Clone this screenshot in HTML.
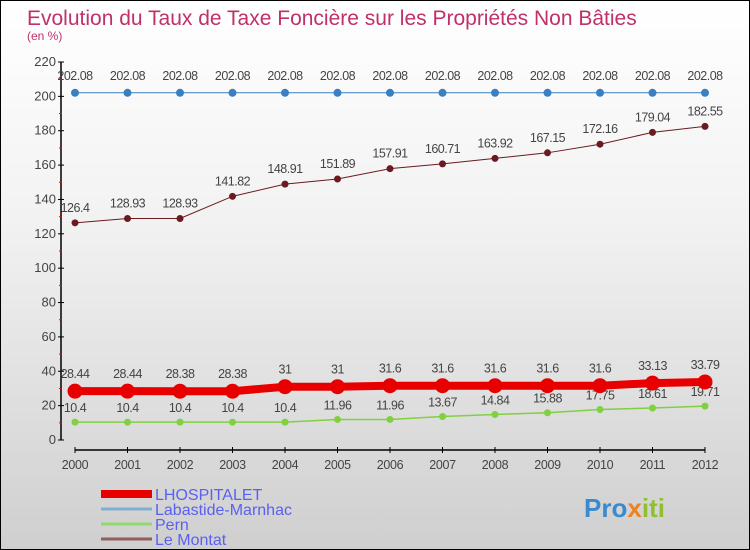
<!DOCTYPE html>
<html><head><meta charset="utf-8"><style>
body{margin:0}
#c{width:748px;height:548px;border:1px solid #000;background:linear-gradient(#fff,#f2f2f2 40%,#cfcfcf);position:relative;font-family:"Liberation Sans",sans-serif}
</style></head><body>
<div id="c">
<svg id="s" width="748" height="548" style="position:absolute;left:0;top:0" font-family="Liberation Sans, sans-serif">
<text x="26" y="24" font-size="21" fill="#c0306a">Evolution du Taux de Taxe Foncière sur les Propriétés Non Bâties</text>
<text x="26" y="39" font-size="12" fill="#c0306a">(en %)</text>
</svg>
</div>
<script>
const years=[2000,2001,2002,2003,2004,2005,2006,2007,2008,2009,2010,2011,2012];
const lhospitalet=[28.44,28.44,28.38,28.38,31,31,31.6,31.6,31.6,31.6,31.6,33.13,33.79];
const labastide=[202.08,202.08,202.08,202.08,202.08,202.08,202.08,202.08,202.08,202.08,202.08,202.08,202.08];
const pern=[10.4,10.4,10.4,10.4,10.4,11.96,11.96,13.67,14.84,15.88,17.75,18.61,19.71];
const montat=[126.4,128.93,128.93,141.82,148.91,151.89,157.91,160.71,163.92,167.15,172.16,179.04,182.55];
const yTicks=[0,20,40,60,80,100,120,140,160,180,200,220];
const NS="http://www.w3.org/2000/svg";
const svg=document.getElementById('s');
const X=i=>74+i*52.5;
const Y=v=>439-v*(378/220);
function el(t,a,p){const e=document.createElementNS(NS,t);for(const k in a)e.setAttribute(k,a[k]);(p||svg).appendChild(e);return e;}
let e=el('line',{x1:60,y1:Y(0),x2:60,y2:Y(220),stroke:'#000','stroke-width':1.5});


e=el('line',{x1:X(0),y1:449,x2:X(12),y2:449,stroke:'#000','stroke-width':1.5});


yTicks.forEach(v=>{
 el('line',{x1:57,y1:Y(v),x2:63,y2:Y(v),stroke:'#000'});
 if(v<220)el('line',{x1:58,y1:Y(v+10),x2:61,y2:Y(v+10),stroke:'#f00'});
 const t=el('text',{x:55,y:Y(v)+4,'text-anchor':'end','font-size':13,fill:'#444'});
 t.textContent=v;
 
 
});
years.forEach((y,i)=>{
 el('line',{x1:X(i),y1:446,x2:X(i),y2:452,stroke:'#000'});
 const t=el('text',{x:X(i),y:468,'text-anchor':'middle','font-size':12.5,fill:'#444','letter-spacing':'-0.3'});
 t.textContent=y;
 
 
});
function series(d,col,w,r,name,lo){
 const g=el('g',{});
 
 
 el('polyline',{points:d.map((v,i)=>X(i)+','+Y(v)).join(' '),fill:'none',stroke:col,'stroke-width':w},g);
 d.forEach((v,i)=>{
  const c=el('circle',{cx:X(i),cy:Y(v),r:r,fill:col},g);
  
  
  const t=el('text',{x:X(i),y:Y(v)-lo,'text-anchor':'middle','font-size':12.5,fill:'#444','letter-spacing':'-0.5'},g);
  t.textContent=v;
  
  
 });
}
series(labastide,'#3a80c0',1,4,'labastide-marnhac',13);
series(montat,'#6a1a20',1,3.5,'le-montat',11);
series(pern,'#80d040',1.5,3.5,'pern',10);
series(lhospitalet,'#e80000',8,7.5,'lhospitalet',13);
const leg=[['LHOSPITALET','#e80000',8],['Labastide-Marnhac','#80b0d0',3],['Pern','#90d870',3],['Le Montat','#906060',3]];
leg.forEach((l,i)=>{
 const y=493+i*15;
 const g=el('g',{});
 
 
 el('line',{x1:100,y1:y,x2:151,y2:y,stroke:l[1],'stroke-width':l[2]},g);
 const t=el('text',{x:154,y:y+6,'font-size':16,fill:'#5a60f0'},g);
 t.textContent=l[0];
});
const p=el('text',{x:583,y:516,'font-size':26,'font-weight':'bold',fill:'#3a8ad0'});
p.innerHTML='Pro<tspan fill="#f08020">x</tspan><tspan fill="#90c030">iti</tspan>';


</script>
</body></html>
